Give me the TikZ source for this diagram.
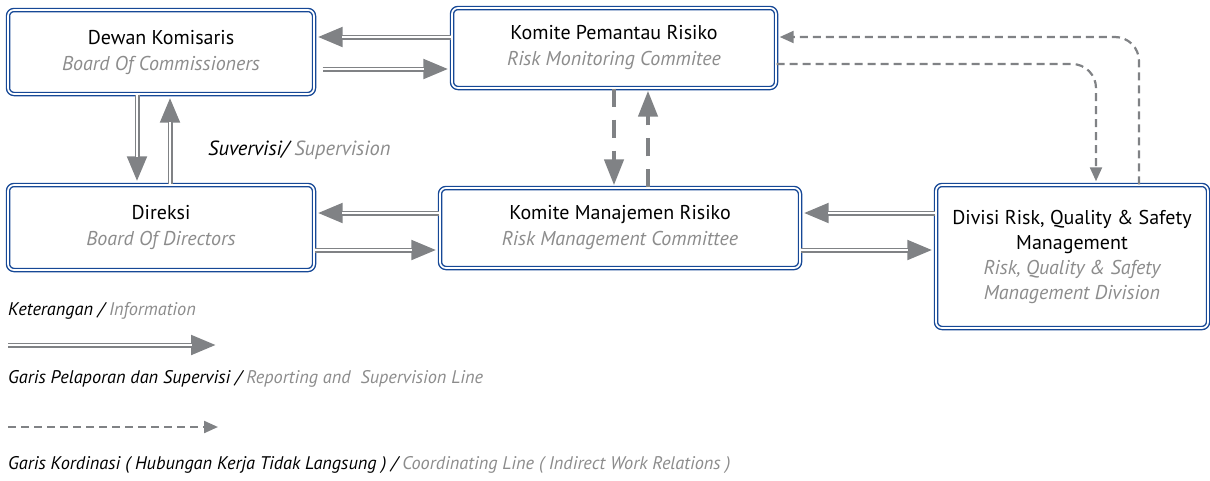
\documentclass[tikz,border=0pt]{standalone}
\usepackage{fontspec}
\setmainfont{PT Sans}
\usetikzlibrary{arrows.meta,calc}
\definecolor{boxblue}{RGB}{22,72,150}
\definecolor{arrowgray}{RGB}{128,130,133}
\definecolor{engray}{RGB}{140,140,140}
\newcommand{\engl}[1]{{\color{engray}\itshape #1}}

\begin{document}
\begin{tikzpicture}[x=1pt, y=-1pt,
  box/.style={draw=boxblue, line width=1.4pt, double=white, double distance=1.7pt, rounded corners=6pt, align=center, inner sep=0pt, font=\fontsize{20}{26}\selectfont},
  dbl/.style={draw=arrowgray, line width=5pt, shorten >=3pt, -{Triangle[length=25pt, width=19pt]}, postaction={draw=white, line width=1.5pt, -, shorten >=27pt}},
  bigdash/.style={draw=arrowgray, line width=4.5pt, dash pattern=on 18pt off 13pt, shorten >=2pt, -{Triangle[length=26pt, width=19pt]}},
  smalldash/.style={draw=arrowgray, line width=2.2pt, dash pattern=on 8pt off 5pt, rounded corners=24pt, shorten >=3pt, -{Triangle[length=14pt, width=12pt]}},
  legend/.style={anchor=west, inner sep=0pt, font=\fontsize{18.3}{20}\selectfont\itshape}
]
  \useasboundingbox (0,0) rectangle (1210,480);

  % Boxes
  \node[box, minimum width=306pt, minimum height=84pt] (dewan) at (161,52) {Dewan Komisaris\\\engl{Board Of Commissioners}};
  \node[box, minimum width=324pt, minimum height=80pt] (pemantau) at (614,48) {Komite Pemantau Risiko\\\engl{Risk Monitoring Commitee}};
  \node[box, minimum width=306pt, minimum height=85pt] (direksi) at (161,227.5) {Direksi\\\engl{Board Of Directors}};
  \node[box, minimum width=360pt, minimum height=80pt] (manajemen) at (620,228) {Komite Manajemen Risiko\\\engl{Risk Management Committee}};
  \node[box, minimum width=272pt, minimum height=143pt, font=\fontsize{20}{25}\selectfont] (divisi) at (1072,256.5) {Divisi Risk, Quality \& Safety\\Management\\\engl{Risk, Quality \& Safety}\\\engl{Management Division}};

  \node[anchor=west, inner sep=0pt, font=\fontsize{20.5}{22}\selectfont\itshape] (suvervisi) at (208,150) {Suvervisi/ \textcolor{engray}{Supervision}};

  % Reporting and supervision lines
  \draw[dbl] (pemantau.west |- 0,37) -- (dewan.east |- 0,37);
  \draw[dbl] ($(dewan.east |- 0,69)+(8,0)$) -- (pemantau.west |- 0,69);
  \draw[dbl] (dewan.south -| 137,0) -- (direksi.north -| 137,0);
  \draw[dbl] (direksi.north -| 170,0) -- (dewan.south -| 170,0);
  \draw[dbl] (manajemen.west |- 0,213) -- (direksi.east |- 0,213);
  \draw[dbl] (direksi.east |- 0,250) -- (manajemen.west |- 0,250);
  \draw[dbl] (divisi.west |- 0,213) -- (manajemen.east |- 0,213);
  \draw[dbl] (manajemen.east |- 0,250) -- (divisi.west |- 0,250);

  % Coordinating lines
  \draw[bigdash] (pemantau.south -| 614,0) -- (manajemen.north -| 614,0);
  \draw[bigdash] (manajemen.north -| 648,0) -- (pemantau.south -| 648,0);
  \draw[smalldash] (divisi.north -| 1139,0) |- (pemantau.east |- 0,37);
  \draw[smalldash] (pemantau.east |- 0,64) -| (divisi.north -| 1096,0);

  % Legend
  \node[legend] (keterangan) at (8,311) {Keterangan / \textcolor{engray}{Information}};
  \coordinate (lineA) at (8,345);
  \coordinate (lineB) at (219,345);
  \draw[dbl] (lineA) -- (lineB);
  \node[legend] (pelaporan) at (8,379) {Garis Pelaporan dan Supervisi / \textcolor{engray}{Reporting and\ \ Supervision Line}};
  \coordinate (dashA) at (8,427);
  \coordinate (dashB) at (221,427);
  \draw[smalldash] (dashA) -- (dashB);
  \node[legend] (kordinasi) at (8,465) {Garis Kordinasi ( Hubungan Kerja Tidak Langsung ) / \textcolor{engray}{Coordinating Line ( Indirect Work Relations )}};
\end{tikzpicture}
\end{document}
